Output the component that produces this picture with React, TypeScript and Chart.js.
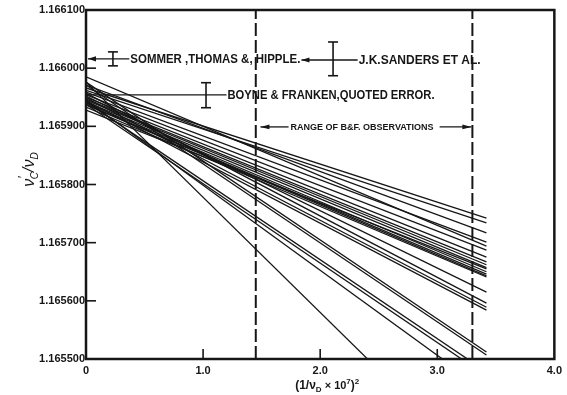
import React, { useEffect, useRef } from "react";
import { Chart, registerables } from "chart.js";

Chart.register(...registerables);

// ---- axes ----
const xTickValues = [0, 1, 2, 3, 4];
const xTickLabels = ["0", "1.0", "2.0", "3.0", "4.0"];
const yTickValues = [1.1655, 1.1656, 1.1657, 1.1658, 1.1659, 1.166, 1.1661];
const yTickLabels = ["1.165500", "1.165600", "1.165700", "1.165800", "1.165900", "1.166000", "1.166100"];
const xInnerTicks = [1, 2, 3];
const yInnerTicks = [1.1656, 1.1657, 1.1658, 1.1659, 1.166];

// ---- fitted lines: value at x = 0 and at x = 3.42 ----
const lineX = [0, 3.42];
const lineStart = [
  1.165966, 1.165962, 1.165971, 1.165959, 1.165985, 1.165954, 1.16595, 1.165947,
  1.165945, 1.165942, 1.16594, 1.165938, 1.165937, 1.165933, 1.165928, 1.165952,
  1.165957, 1.165949, 1.165944, 1.165976, 1.165971, 1.165942, 1.165938, 1.165945,
  1.165976,
];
const lineEnd = [
  1.165742, 1.165734, 1.165717, 1.165701, 1.165694, 1.165687, 1.165675, 1.165667,
  1.165662, 1.165657, 1.16565, 1.165646, 1.165643, 1.165641, 1.165655, 1.165615,
  1.165596, 1.165589, 1.165584, 1.165512, 1.165507, 1.165478, 1.165471, 1.165445,
  1.165299,
];

// ---- range of B&F observations ----
const rangeLimits = [1.45, 3.3];
const rangeArrowY = 1.165899;
const rangeArrowX = [1.49, 1.73, 3.02, 3.3];

// ---- quoted results with error bars ----
const sommerLine = [0, 0.37, 1.166016];
const sommerBar = [0.23, 1.166004, 1.166028];
const sandersLine = [1.84, 2.32, 1.166014];
const sandersBar = [2.11, 1.165987, 1.166045];
const boyneLine = [0, 1.2, 1.165954];
const boyneBar = [1.025, 1.165932, 1.165975];

const INK = "#161616";
const FONT = "'Liberation Sans', Arial, sans-serif";

function arrowHead(ctx: CanvasRenderingContext2D, x: number, y: number, dir: number, len = 8, half = 2.6) {
  ctx.beginPath();
  ctx.moveTo(x, y);
  ctx.lineTo(x - dir * len, y - half);
  ctx.lineTo(x - dir * len, y + half);
  ctx.closePath();
  ctx.fill();
}

function seg(ctx: CanvasRenderingContext2D, x1: number, y1: number, x2: number, y2: number) {
  ctx.beginPath();
  ctx.moveTo(x1, y1);
  ctx.lineTo(x2, y2);
  ctx.stroke();
}

function errorBar(ctx: CanvasRenderingContext2D, x: number, y1: number, y2: number) {
  ctx.lineWidth = 1.6;
  seg(ctx, x, y1, x, y2);
  seg(ctx, x - 5, y1, x + 5, y1);
  seg(ctx, x - 5, y2, x + 5, y2);
}

const overlay = {
  id: "overlay",
  afterDraw(chart: any) {
    const { ctx, chartArea: ca, scales } = chart;
    const px = (v: number) => scales.x.getPixelForValue(v);
    const py = (v: number) => scales.y.getPixelForValue(v);
    ctx.save();
    ctx.strokeStyle = INK;
    ctx.fillStyle = INK;
    ctx.lineCap = "butt";

    // frame
    ctx.lineWidth = 2.5;
    ctx.strokeRect(ca.left, ca.top, ca.right - ca.left, ca.bottom - ca.top);

    // inward ticks
    ctx.lineWidth = 1.6;
    yInnerTicks.forEach((v) => seg(ctx, ca.left, py(v), ca.left + 10, py(v)));
    xInnerTicks.forEach((v) => seg(ctx, px(v), ca.bottom, px(v), ca.bottom - 10));

    ctx.textBaseline = "middle";
    ctx.textAlign = "left";

    // Sommer, Thomas & Hipple
    ctx.lineWidth = 1.3;
    seg(ctx, px(sommerLine[0]) + 2, py(sommerLine[2]), px(sommerLine[1]), py(sommerLine[2]));
    arrowHead(ctx, px(sommerLine[0]) + 2, py(sommerLine[2]), -1);
    errorBar(ctx, px(sommerBar[0]), py(sommerBar[1]), py(sommerBar[2]));
    ctx.font = `bold 12px ${FONT}`;
    ctx.fillText("SOMMER ,THOMAS &, HIPPLE.", px(sommerLine[1]) + 1, py(sommerLine[2]) + 1, 170);

    // J.K. Sanders et al.
    ctx.lineWidth = 1.3;
    seg(ctx, px(sandersLine[0]), py(sandersLine[2]), px(sandersLine[1]), py(sandersLine[2]));
    arrowHead(ctx, px(sandersLine[0]), py(sandersLine[2]), -1);
    errorBar(ctx, px(sandersBar[0]), py(sandersBar[1]), py(sandersBar[2]));
    ctx.fillText("J.K.SANDERS ET AL.", px(sandersLine[1]) + 1, py(sandersLine[2]) + 1, 124);

    // Boyne & Franken
    ctx.lineWidth = 1.3;
    seg(ctx, px(boyneLine[0]), py(boyneLine[2]), px(boyneLine[1]), py(boyneLine[2]));
    errorBar(ctx, px(boyneBar[0]), py(boyneBar[1]), py(boyneBar[2]));
    ctx.fillText("BOYNE & FRANKEN,QUOTED ERROR.", px(boyneLine[1]) + 1, py(boyneLine[2]) + 1, 207);

    // Range of B&F observations
    const ry = py(rangeArrowY);
    ctx.lineWidth = 1.3;
    seg(ctx, px(rangeArrowX[0]), ry, px(rangeArrowX[1]), ry);
    arrowHead(ctx, px(rangeArrowX[0]), ry, -1, 9, 2.4);
    seg(ctx, px(rangeArrowX[2]), ry, px(rangeArrowX[3]) - 1, ry);
    arrowHead(ctx, px(rangeArrowX[3]) - 1, ry, 1, 9, 2.4);
    ctx.font = `bold 9px ${FONT}`;
    ctx.fillText("RANGE OF B&F. OBSERVATIONS", px(rangeArrowX[1]) + 2, ry + 0.5, px(rangeArrowX[2]) - px(rangeArrowX[1]) - 4);

    // y axis title  ν'C / νD (rotated)
    ctx.save();
    ctx.translate(29, 168);
    ctx.rotate(-Math.PI / 2);
    ctx.textBaseline = "alphabetic";
    const parts: [string, number, number][] = [
      ["ν", 16, 0],
      ["′", 13, -7],
      ["C", 10, 4],
      ["/", 16, 0],
      ["ν", 16, 0],
      ["D", 10, 4],
    ];
    let total = 0;
    parts.forEach(([t, s]) => {
      ctx.font = `italic ${s}px ${FONT}`;
      total += ctx.measureText(t).width;
    });
    let cx = -total / 2;
    parts.forEach(([t, s, dy], i) => {
      ctx.font = `italic ${s}px ${FONT}`;
      const w = ctx.measureText(t).width;
      ctx.fillText(t, i === 2 ? cx - 3 : cx, 5 + dy);
      cx += i === 2 ? w - 3 : w;
    });
    ctx.restore();

    // x axis title (1/νD × 10^7)^2
    ctx.save();
    ctx.textBaseline = "alphabetic";
    const xparts: [string, number, number][] = [
      ["(1/ν", 12, 0],
      ["D", 8, 3],
      [" × 10", 11, 0],
      ["7", 8, -5],
      [")", 12, 0],
      ["2", 8, -5],
    ];
    let tw = 0;
    xparts.forEach(([t, s]) => {
      ctx.font = `bold ${s}px ${FONT}`;
      tw += ctx.measureText(t).width;
    });
    let xx = px(2.06) - tw / 2;
    xparts.forEach(([t, s, dy]) => {
      ctx.font = `bold ${s}px ${FONT}`;
      ctx.fillText(t, xx, 389 + dy);
      xx += ctx.measureText(t).width;
    });
    ctx.restore();

    ctx.restore();
  },
};

export default function App() {
  const ref = useRef<HTMLCanvasElement | null>(null);

  useEffect(() => {
    if (!ref.current) return;
    const fitted = lineStart.map((s, i) => ({
      type: "line" as const,
      data: [
        { x: lineX[0], y: s },
        { x: lineX[1], y: lineEnd[i] },
      ],
      borderColor: INK,
      borderWidth: 1.3,
      pointRadius: 0,
      fill: false,
    }));
    const dashed = rangeLimits.map((x) => ({
      type: "line" as const,
      data: [
        { x, y: yTickValues[0] },
        { x, y: yTickValues[yTickValues.length - 1] },
      ],
      borderColor: INK,
      borderWidth: 2,
      borderDash: [13, 4],
      pointRadius: 0,
      fill: false,
    }));

    const chart = new Chart(ref.current, {
      type: "line",
      data: { datasets: [...fitted, ...dashed] as any },
      options: {
        responsive: false,
        animation: false,
        devicePixelRatio: 1,
        layout: { padding: { left: 0, right: 9, top: 10, bottom: 0 } },
        plugins: { legend: { display: false }, tooltip: { enabled: false } },
        scales: {
          x: {
            type: "linear",
            min: 0,
            max: 4,
            grid: { display: false, drawTicks: false },
            border: { display: false },
            afterFit: (s: any) => {
              s.height = 36;
            },
            afterBuildTicks: (s: any) => {
              s.ticks = xTickValues.map((v) => ({ value: v }));
            },
            ticks: {
              padding: 5,
              color: INK,
              font: { family: FONT, size: 11, weight: "bold" },
              maxRotation: 0,
              callback: (v: any) => xTickLabels[xTickValues.indexOf(Number(v))] ?? "",
            },
          },
          y: {
            type: "linear",
            min: 1.1655,
            max: 1.1661,
            grid: { display: false, drawTicks: false },
            border: { display: false },
            afterFit: (s: any) => {
              s.width = 86;
            },
            afterBuildTicks: (s: any) => {
              s.ticks = yTickValues.map((v) => ({ value: v }));
            },
            ticks: {
              padding: 1,
              color: INK,
              font: { family: FONT, size: 11, weight: "bold" },
              callback: (v: any) => {
                const i = yTickValues.findIndex((t) => Math.abs(t - Number(v)) < 1e-9);
                return i >= 0 ? yTickLabels[i] : "";
              },
            },
          },
        },
      },
      plugins: [overlay],
    });
    return () => chart.destroy();
  }, []);

  return (
    <div style={{ position: "fixed", left: 0, top: 0, width: 567, height: 395, background: "#fff" }}>
      <canvas ref={ref} width={567} height={395} style={{ display: "block" }} />
    </div>
  );
}
